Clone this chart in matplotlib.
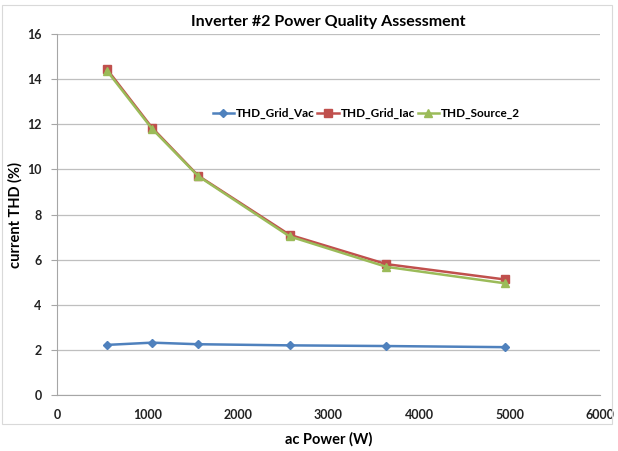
import matplotlib.pyplot as plt
from matplotlib.patches import Rectangle

power_w = [550, 1050, 1560, 2570, 3640, 4950]
thd_grid_vac = [2.22, 2.32, 2.25, 2.2, 2.17, 2.12]
thd_grid_iac = [14.45, 11.85, 9.72, 7.1, 5.8, 5.12]
thd_source_2 = [14.38, 11.8, 9.7, 7.03, 5.68, 4.95]

x_ticks = [0, 1000, 2000, 3000, 4000, 5000, 6000]
y_ticks = [0, 2, 4, 6, 8, 10, 12, 14, 16]

plt.rcParams['font.family'] = ['Lato', 'DejaVu Sans']

fig = plt.figure(figsize=(6.18, 4.51), dpi=100)
ax = fig.add_axes([57 / 618, 1 - 395 / 451, 543 / 618, 361 / 451])

# light frame round the chart area
fig.patches.append(Rectangle((2 / 618, 0.06), 610 / 618, 0.93, transform=fig.transFigure,
                             fill=False, edgecolor='#d9d9d9', linewidth=0.8))

ax.plot(power_w, thd_grid_vac, marker='D', markersize=4, color='#4F81BD', linewidth=1.8,
        label='THD_Grid_Vac')
ax.plot(power_w, thd_grid_iac, marker='s', markersize=5.5, color='#C0504D', linewidth=1.8,
        label='THD_Grid_Iac')
ax.plot(power_w, thd_source_2, marker='^', markersize=5.5, color='#9BBB59', linewidth=1.8,
        label='THD_Source_2')

ax.set_xlim(0, 6000)
ax.set_ylim(0, 16)
ax.set_xticks(x_ticks)
ax.set_yticks(y_ticks)
ax.grid(axis='y', color='#bfbfbf', linewidth=0.9)
ax.set_axisbelow(True)

for side in ['top', 'right']:
    ax.spines[side].set_visible(False)
for side in ['left', 'bottom']:
    ax.spines[side].set_color('#a6a6a6')

ax.tick_params(axis='x', length=0, pad=10, labelsize=9)
ax.tick_params(axis='y', length=4, color='#a6a6a6', pad=7, labelsize=9)
for lbl in ax.get_xticklabels() + ax.get_yticklabels():
    lbl.set_fontweight('bold')
    lbl.set_color('#222222')

ax.set_title('Inverter #2 Power Quality Assessment', fontsize=11.5, fontweight='bold', pad=6)
ax.set_xlabel('ac Power (W)', fontsize=10.5, fontweight='bold', labelpad=8)
ax.set_ylabel('current THD (%)', fontsize=10.5, fontweight='bold', labelpad=3)

leg = ax.legend(loc='center', bbox_to_anchor=(0.57, 0.78), ncol=3, frameon=False,
                handlelength=1.8, handletextpad=0.2, columnspacing=0.2,
                prop={'weight': 'bold', 'size': 8.5})

fig.savefig('out.png', dpi=100)
